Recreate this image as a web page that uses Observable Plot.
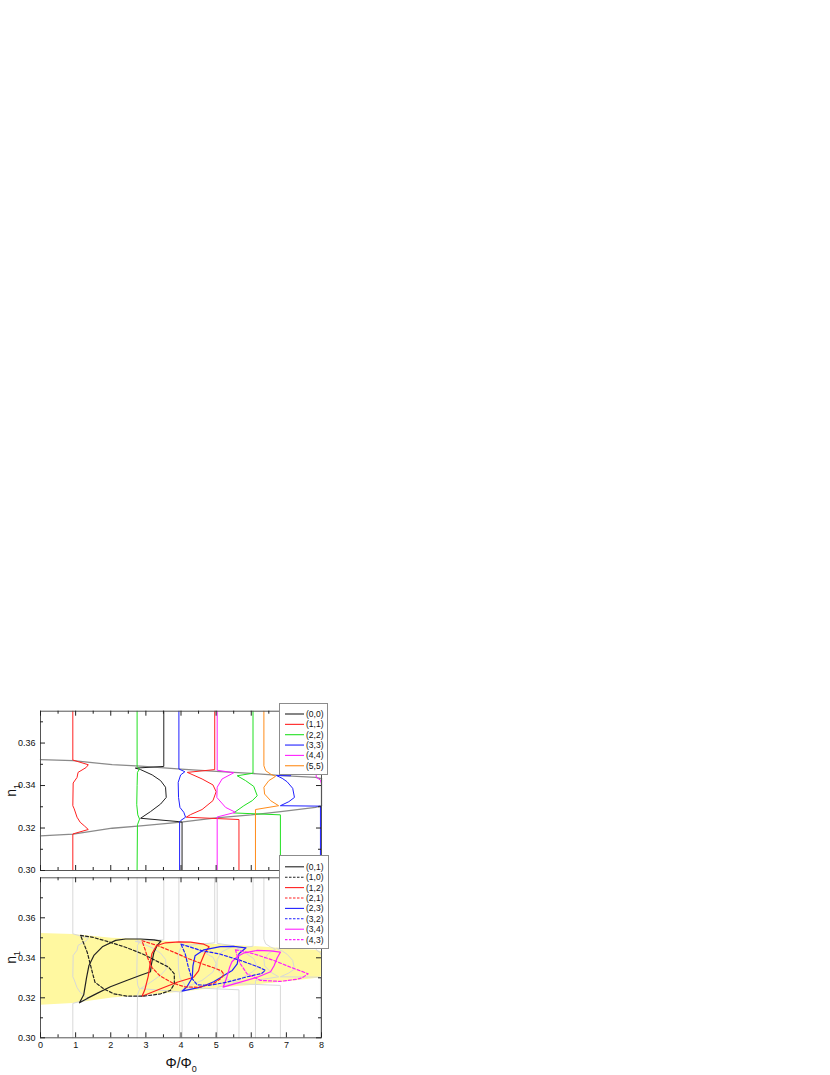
<!DOCTYPE html>
<html><head><meta charset="utf-8">
<script src="https://cdn.jsdelivr.net/npm/d3@7"></script>
<script src="https://cdn.jsdelivr.net/npm/@observablehq/plot@0.6"></script>
<style>
body{margin:0;background:#fff;font-family:"Liberation Sans",Arial,sans-serif;}
#page{position:relative;width:830px;height:1075px;overflow:hidden;background:#fff;}
.lbl{position:absolute;font-size:14px;color:#111;white-space:nowrap;}
.lbl sub{font-size:9px;}
</style></head><body><div id="page"></div>
<script>
// ---------- data ----------
const TOP = 0.38;
const xMajor = [0,1,2,3,4,5,6,7,8];
const xMinor = [0.5,1.5,2.5,3.5,4.5,5.5,6.5,7.5];
const yMajor = [0.30,0.32,0.34,0.36];
const yMinorTop = [0.31,0.33,0.35,0.37];
const yMinorBot = [0.31,0.33,0.35,0.37];

// band boundaries (same x samples for both edges)
const boundX     = [0,      0.93,   2.04,   2.85,   4.0,    5.0,    6.0,    6.9,    7.83,   8];
const boundUpper = [0.3522, 0.3517, 0.3498, 0.3491, 0.3477, 0.3467, 0.3457, 0.3447, 0.3438, 0.3432];
const boundLower = [0.3163, 0.3171, 0.3199, 0.3210, 0.3228, 0.3248, 0.3262, 0.3278, 0.3297, 0.3305];
const boundRight = [[8,0.3432],[8,0.3305]];

// top panel (n,n) curves
const topNames  = ["(0,0)","(1,1)","(2,2)","(3,3)","(4,4)","(5,5)"];
const topColors = ["#222222","#ff2020","#20e020","#2020ff","#ff20ff","#ff8c1a"];
const c00  = [[3.51,TOP],[3.51,0.3490],[2.70,0.3482],[2.85,0.3475],[3.18,0.3450],[3.42,0.3423],[3.56,0.3392],[3.58,0.3344],[3.42,0.3313],[3.13,0.3277],[2.85,0.3246],[3.94,0.3230],[4.03,0.3228],[4.03,0.30]];
const c11a = [[0.92,TOP],[0.92,0.3520],[1.36,0.3498],[1.30,0.3485],[1.07,0.3462],[1.04,0.3438],[0.93,0.3412],[0.92,0.3305],[0.96,0.3290],[1.04,0.3251],[1.13,0.3227],[1.25,0.3210],[1.36,0.3193],[0.92,0.3172],[0.92,0.30]];
const c11b = [[4.96,TOP],[4.96,0.3475],[4.18,0.3462],[4.60,0.3431],[4.91,0.3403],[5.00,0.3371],[4.91,0.3329],[4.60,0.3287],[4.27,0.3263],[4.15,0.3251],[5.65,0.3240],[5.65,0.30]];
const c22a = [[2.75,TOP],[2.75,0.3490],[2.82,0.3478],[2.76,0.3462],[2.75,0.3400],[2.74,0.3310],[2.77,0.3262],[2.82,0.3242],[2.76,0.3215],[2.75,0.30]];
const c22b = [[6.05,TOP],[6.05,0.3458],[5.60,0.3446],[5.84,0.3423],[6.07,0.3396],[6.17,0.3352],[6.03,0.3329],[5.79,0.3305],[5.50,0.3271],[6.83,0.3262],[6.83,0.30]];
const c33a = [[3.94,TOP],[3.94,0.3478],[4.11,0.3465],[3.99,0.3450],[3.92,0.3415],[3.93,0.3344],[3.97,0.3297],[4.08,0.3274],[4.13,0.3251],[3.99,0.3235],[3.96,0.3230],[3.96,0.30]];
const c33b = [[7.12,TOP],[7.12,0.3446],[6.72,0.3447],[6.88,0.3434],[7.02,0.3418],[7.18,0.3387],[7.23,0.3344],[7.07,0.3324],[6.83,0.3305],[7.97,0.3303],[7.97,0.30]];
const c44a = [[5.03,TOP],[5.03,0.3472],[5.50,0.3460],[5.17,0.3431],[5.03,0.3392],[5.02,0.3344],[5.27,0.3297],[5.55,0.3274],[5.03,0.3252],[5.03,0.30]];
const c44b = [[7.85,TOP],[7.85,0.3440],[7.97,0.3425],[8.0,0.3408]];
const c55  = [[6.36,TOP],[6.36,0.3493],[6.41,0.3470],[6.55,0.3454],[6.69,0.3443],[6.50,0.3423],[6.36,0.3392],[6.38,0.3360],[6.55,0.3329],[6.78,0.3305],[6.12,0.3287],[6.12,0.30]];

// bottom panel loops
const botNames  = ["(0,1)","(1,0)","(1,2)","(2,1)","(2,3)","(3,2)","(3,4)","(4,3)"];
const botColors = ["#222222","#222222","#ff2020","#ff2020","#2020ff","#2020ff","#ff20ff","#ff20ff"];
const botDashed = [false,true,false,true,false,true,false,true];
const l01 = [[1.11,0.3175],[1.33,0.3197],[1.61,0.3222],[1.99,0.3255],[2.47,0.3288],[2.85,0.3313],[3.13,0.3330],[3.16,0.3370],[3.23,0.3428],[3.32,0.3462],[3.43,0.3483],[3.23,0.3490],[2.85,0.3494],[2.42,0.3494],[2.14,0.3487],[1.76,0.3455],[1.52,0.3412],[1.38,0.3362],[1.31,0.3300],[1.23,0.3215],[1.11,0.3175]];
const l10 = [[1.14,0.3512],[1.50,0.3502],[1.90,0.3482],[2.42,0.3453],[2.90,0.3420],[3.37,0.3378],[3.65,0.3353],[3.81,0.3320],[3.81,0.3270],[3.70,0.3237],[3.42,0.3220],[2.94,0.3208],[2.47,0.3208],[2.09,0.3220],[1.80,0.3245],[1.55,0.3278],[1.45,0.3345],[1.33,0.3428],[1.14,0.3512]];
const l12 = [[2.89,0.3208],[3.42,0.3245],[3.89,0.3278],[4.36,0.3303],[4.50,0.3335],[4.56,0.3375],[4.68,0.3425],[4.80,0.3455],[4.65,0.3468],[4.27,0.3478],[3.94,0.3480],[3.56,0.3475],[3.30,0.3460],[3.17,0.3420],[3.12,0.3370],[3.07,0.3310],[2.97,0.3240],[2.89,0.3208]];
const l21 = [[2.89,0.3485],[3.32,0.3462],[3.80,0.3428],[4.22,0.3395],[4.60,0.3370],[4.93,0.3350],[5.15,0.3335],[5.22,0.3318],[5.15,0.3298],[4.93,0.3272],[4.50,0.3252],[4.10,0.3255],[3.75,0.3275],[3.40,0.3310],[3.18,0.3350],[3.05,0.3400],[2.98,0.3440],[2.89,0.3485]];
const l23 = [[4.03,0.3233],[4.56,0.3253],[4.93,0.3280],[5.12,0.3300],[5.30,0.3320],[5.46,0.3337],[5.60,0.3370],[5.65,0.3420],[5.85,0.3450],[5.50,0.3457],[5.12,0.3456],[4.65,0.3440],[4.40,0.3410],[4.34,0.3360],[4.32,0.3300],[4.17,0.3255],[4.03,0.3233]];
const l32 = [[4.00,0.3468],[4.60,0.3435],[5.08,0.3420],[5.69,0.3387],[6.22,0.3353],[6.40,0.3337],[6.30,0.3322],[5.88,0.3305],[5.31,0.3278],[4.80,0.3262],[4.46,0.3265],[4.30,0.3300],[4.20,0.3360],[4.12,0.3420],[4.00,0.3468]];
const l34 = [[5.20,0.3253],[5.69,0.3278],[6.17,0.3303],[6.55,0.3330],[6.65,0.3360],[6.74,0.3400],[6.83,0.3428],[6.55,0.3435],[6.17,0.3437],[5.80,0.3425],[5.60,0.3405],[5.45,0.3380],[5.38,0.3350],[5.30,0.3300],[5.20,0.3253]];
const l43 = [[5.55,0.3440],[6.07,0.3420],[6.64,0.3387],[7.12,0.3353],[7.62,0.3320],[7.45,0.3300],[7.31,0.3293],[6.83,0.3282],[6.26,0.3287],[5.88,0.3320],[5.69,0.3370],[5.60,0.3410],[5.55,0.3440]];

// ---------- build tables ----------
function rows(series, id, pts){ return pts.map(([x,y])=>({series, seg: series+"#"+id, x, y})); }
const topRows = [
  ...rows("(0,0)","a",c00),
  ...rows("(1,1)","a",c11a), ...rows("(1,1)","b",c11b),
  ...rows("(2,2)","a",c22a), ...rows("(2,2)","b",c22b),
  ...rows("(3,3)","a",c33a), ...rows("(3,3)","b",c33b),
  ...rows("(4,4)","a",c44a), ...rows("(4,4)","b",c44b),
  ...rows("(5,5)","a",c55)
];
const boundRows = [
  ...boundX.map((x,i)=>({seg:"u",x,y:boundUpper[i]})),
  ...boundX.map((x,i)=>({seg:"l",x,y:boundLower[i]})),
  ...boundRight.map(([x,y])=>({seg:"r",x,y}))
];
const bandRows = boundX.map((x,i)=>({x, lo:boundLower[i], hi:boundUpper[i]}));
const botLoops = [l01,l10,l12,l21,l23,l32,l34,l43];
const solidRows = [], dashRows = [];
botLoops.forEach((pts,i)=>{ (botDashed[i]?dashRows:solidRows).push(...rows(botNames[i],"a",pts)); });

// ---------- helpers ----------
const page = document.getElementById("page");
function place(node,left,top){ node.style.position="absolute"; node.style.left=left+"px"; node.style.top=top+"px"; page.appendChild(node); return node; }
const FONT = "'Liberation Sans', Arial, sans-serif";
const W = 340, ML = 40, MR = 19, FW = W - ML - MR;
// inward ticks: rules inset so only a short piece next to each frame edge remains
function tickMarks(yMinor, FH){
  const o = {stroke:"#222", strokeWidth:1};
  return [
    Plot.ruleX(xMajor,{...o, x:d=>d, insetTop:FH-5}),
    Plot.ruleX(xMajor,{...o, x:d=>d, insetBottom:FH-5}),
    Plot.ruleX(xMinor,{...o, x:d=>d, insetTop:FH-3}),
    Plot.ruleX(xMinor,{...o, x:d=>d, insetBottom:FH-3}),
    Plot.ruleY(yMajor,{...o, y:d=>d, insetRight:FW-5}),
    Plot.ruleY(yMajor,{...o, y:d=>d, insetLeft:FW-5}),
    Plot.ruleY(yMinor,{...o, y:d=>d, insetRight:FW-3}),
    Plot.ruleY(yMinor,{...o, y:d=>d, insetLeft:FW-3})
  ];
}

// ---------- top panel ----------
const T = {h:175, mt:10.7, mb:5};
const topPlot = Plot.plot({
  width:W, height:T.h, marginLeft:ML, marginRight:MR, marginTop:T.mt, marginBottom:T.mb,
  x:{domain:[0,8], axis:null}, y:{domain:[0.30,0.375], clamp:true},
  color:{domain:topNames, range:topColors},
  style:{fontFamily:FONT, fontSize:"9px", color:"#111", background:"transparent", overflow:"visible"},
  marks:[
    Plot.line(boundRows,{x:"x", y:"y", z:"seg", stroke:"#8a8a8a", strokeWidth:1.3}),
    Plot.line(topRows,{x:"x", y:"y", z:"seg", stroke:"series", strokeWidth:1}),
    Plot.frame({stroke:"#555"}),
    ...tickMarks(yMinorTop, T.h - T.mt - T.mb),
    Plot.axisY(yMajor,{anchor:"left", tickSize:0, tickPadding:5, tickFormat:d3.format(".2f"), label:null})
  ]
});
place(topPlot,0,700);

// ---------- bottom panel ----------
const B = {h:203, mt:5.3, mb:37.7};
const botPlot = Plot.plot({
  width:W, height:B.h, marginLeft:ML, marginRight:MR, marginTop:B.mt, marginBottom:B.mb,
  x:{domain:[0,8]}, y:{domain:[0.30,0.38], clamp:true},
  color:{domain:botNames, range:botColors},
  style:{fontFamily:FONT, fontSize:"9px", color:"#111", background:"transparent", overflow:"visible"},
  marks:[
    Plot.areaY(bandRows,{x:"x", y1:"lo", y2:"hi", fill:"#fff8a0"}),
    Plot.line(topRows,{x:"x", y:"y", z:"seg", stroke:"#d8d8d8", strokeWidth:1}),
    Plot.line(solidRows,{x:"x", y:"y", z:"seg", stroke:"series", strokeWidth:1.2}),
    Plot.line(dashRows,{x:"x", y:"y", z:"seg", stroke:"series", strokeWidth:1.2, strokeDasharray:"3,2"}),
    Plot.frame({stroke:"#555"}),
    ...tickMarks(yMinorBot, B.h - B.mt - B.mb),
    Plot.axisY(yMajor,{anchor:"left", tickSize:0, tickPadding:5, tickFormat:d3.format(".2f"), label:null}),
    Plot.axisX(xMajor,{anchor:"bottom", tickSize:0, tickPadding:4, tickFormat:d=>String(d), label:null})
  ]
});
place(botPlot,0,872);

// ---------- legends ----------
function legend(names, colors, dashed, left, top, width, height, firstRow, gap){
  const div = document.createElement("div");
  div.style.width = width+"px"; div.style.height = height+"px";
  div.style.background = "#fff"; div.style.border = "1px solid #8c8c8c"; div.style.boxSizing = "border-box";
  const svg = d3.select(div).append("svg").attr("width",width).attr("height",height).style("display","block");
  names.forEach((n,i)=>{
    const y = firstRow + i*gap;
    svg.append("line").attr("x1",5).attr("x2",24).attr("y1",y).attr("y2",y)
      .attr("stroke",colors[i]).attr("stroke-width",1.1).attr("stroke-dasharray",dashed&&dashed[i]?"2.5,1.5":null);
    svg.append("text").attr("x",26).attr("y",y).attr("dy","0.35em")
      .attr("font-family",FONT).attr("font-size","8.5px").attr("fill","#111").text(n);
  });
  place(div,left,top);
}
legend(topNames, topColors, null, 278.5, 703, 49.5, 72, 10, 10.35);
legend(botNames, botColors, botDashed, 279, 855, 49.5, 93.5, 10.8, 10.4);

// ---------- axis titles ----------
function label(html, cx, cy, rotate){
  const d = document.createElement("div"); d.className="lbl"; d.innerHTML = html;
  page.appendChild(d);
  const w = d.offsetWidth, h = d.offsetHeight;
  d.style.left = (cx - w/2)+"px"; d.style.top = (cy - h/2)+"px";
  if (rotate) d.style.transform = "rotate(-90deg)";
}
label("n<sub>1</sub>", 12, 790, true);
label("n<sub>1</sub>", 12, 957, true);
label("&Phi;/&Phi;<sub>0</sub>", 181, 1064, false);
</script></body></html>
